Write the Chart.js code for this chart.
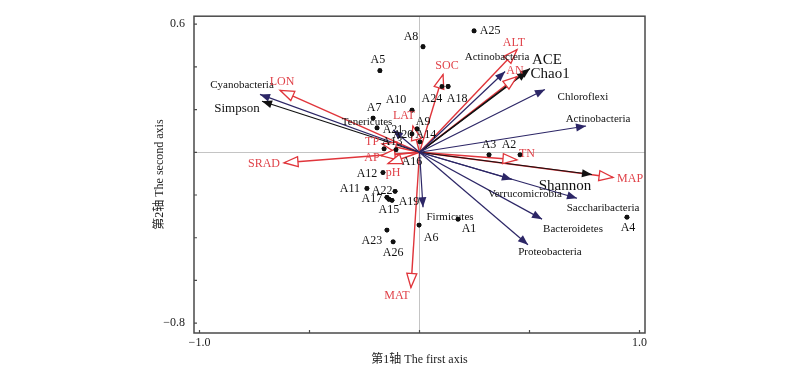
<!DOCTYPE html>
<html><head><meta charset="utf-8">
<script src="https://cdn.jsdelivr.net/npm/chart.js@4.4.1/dist/chart.umd.min.js"></script>
<style>html,body{margin:0;padding:0;background:#fff;}#wrap{width:800px;height:376px;}</style>
</head><body><div id="wrap"><canvas id="c" width="800" height="376"></canvas></div>
<script>
// ---- data ----
const sampleNames = ['A1','A2','A3','A4','A5','A6','A7','A8','A9','A10','A11','A12','A13','A14','A15','A16','A17','A18','A19','A20','A21','A22','A23','A24','A25','A26'];
const sampleX = [0.175,0.457,0.316,0.943,-0.180,-0.002,-0.211,0.016,-0.011,-0.034,-0.239,-0.166,-0.161,0.002,-0.139,-0.107,-0.148,0.130,-0.125,-0.034,-0.193,-0.111,-0.148,0.102,0.248,-0.120];
const sampleY = [-0.313,-0.012,-0.012,-0.304,0.382,-0.341,0.160,0.494,0.109,0.197,-0.169,-0.095,0.016,0.049,-0.220,0.012,-0.211,0.308,-0.225,0.086,0.114,-0.183,-0.364,0.308,0.568,-0.419];

const envNames = ['LON','SRAD','TP','AP','pH','LAT','MAT','SOC','ALT','AN','TN','MAP'];
const envX = [-0.634,-0.616,-0.170,-0.175,-0.143,-0.030,-0.039,0.107,0.443,0.443,0.443,0.880];
const envY = [0.290,-0.049,0.039,-0.016,-0.053,0.123,-0.633,0.364,0.480,0.354,-0.035,-0.118];

const phylumNames = ['Cyanobacteria','Tenericutes','Actinobacteria','Chloroflexi','Actinobacteria','Verrucomicrobia','Saccharibacteria','Bacteroidetes','Proteobacteria','Firmicutes'];
const phylumX = [-0.725,-0.120,0.389,0.570,0.757,0.420,0.716,0.557,0.493,0.016];
const phylumY = [0.271,0.104,0.378,0.294,0.123,-0.127,-0.215,-0.313,-0.433,-0.257];

const diversityNames = ['Simpson','ACE','Chao1','Shannon'];
const diversityX = [-0.716,0.502,0.489,0.784];
const diversityY = [0.239,0.392,0.378,-0.104];

const xTickValues = [-1,-0.5,0,0.5,1];
const xTickLabels = ['\u22121.0','','','','1.0'];
const yTickValues = [0.6,0.4,0.2,0,-0.2,-0.4,-0.6,-0.8];
const yTickLabels = ['0.6','','','','','','','\u22120.8'];

// ---- label placement (pixel offsets of text centre from the mark) ----
const sampleLabelOffsets = [[11,10],[-11,-10],[0,-10],[1,11],[-2,-11],[12,13],[1,-10],[-12,-10],[6,-7],[-16,-10],[-17,0],[-16,1],[8,-7],[6,-7],[0,11],[16,12],[-15,1],[9,12],[17,2],[-9,1],[16,2],[-13,-1],[-15,11],[-10,12],[16,0],[0,11]];
const envLabelOffsets = [[2,-8],[-20,1],[-10,-2],[-9,2],[5,9],[-9,-10],[-14,8],[4,-9],[-3,-7],[-2,-6],[10,-6],[17,1]];
const phylumLabelOffsets = [[-18,-9],[-26,-8],[-8,-14],[38,8],[12,-7],[13,15],[26,10],[31,10],[22,7],[27,10]];
const diversityLabelOffsets = [[-25,7],[17,-8],[23,3],[-27,12]];
const diversityFontSizes = [13,15,15,15];

const FONT = '"Liberation Serif", "Noto Sans CJK SC", serif';
const RED = '#e0353b', RED_TXT = '#e0434a', NAVY = '#2c2666', BLACK = '#111111';

const datasets = [];
function addArrows(names, xs, ys, color, w) {
  names.forEach((n, i) => datasets.push({
    label: n, data: [{x:0,y:0},{x:xs[i],y:ys[i]}], showLine: true,
    borderColor: color, borderWidth: w, pointRadius: 0, pointHoverRadius: 0, fill: false, tension: 0, order: 5
  }));
}
addArrows(phylumNames, phylumX, phylumY, NAVY, 1.2);
addArrows(diversityNames, diversityX, diversityY, BLACK, 1.2);
addArrows(envNames, envX, envY, RED, 1.4);
datasets.push({
  label: 'samples', data: sampleNames.map((n,i)=>({x:sampleX[i], y:sampleY[i]})),
  backgroundColor: BLACK, borderColor: BLACK, pointRadius: 2.4, borderWidth: 0, order: 0
});

function head(ctx, ox, oy, tx, ty, len, hw, hollow, color) {
  const a = Math.atan2(ty - oy, tx - ox);
  const bx = tx - len * Math.cos(a), by = ty - len * Math.sin(a);
  const nx = -Math.sin(a) * hw, ny = Math.cos(a) * hw;
  ctx.beginPath();
  ctx.moveTo(tx, ty); ctx.lineTo(bx + nx, by + ny); ctx.lineTo(bx - nx, by - ny); ctx.closePath();
  if (hollow) { ctx.fillStyle = '#fff'; ctx.fill(); ctx.strokeStyle = color; ctx.lineWidth = 1.3; ctx.stroke(); }
  else { ctx.fillStyle = color; ctx.fill(); }
}

const decor = {
  id: 'decor',
  afterDatasetsDraw(chart) {
    const {ctx, scales: {x, y}} = chart;
    const ox = x.getPixelForValue(0), oy = y.getPixelForValue(0);
    ctx.save();
    phylumNames.forEach((n,i)=> head(ctx, ox, oy, x.getPixelForValue(phylumX[i]), y.getPixelForValue(phylumY[i]), 10, 4, false, NAVY));
    diversityNames.forEach((n,i)=> head(ctx, ox, oy, x.getPixelForValue(diversityX[i]), y.getPixelForValue(diversityY[i]), 10, 4, false, BLACK));
    envNames.forEach((n,i)=> head(ctx, ox, oy, x.getPixelForValue(envX[i]), y.getPixelForValue(envY[i]), 14, 5, true, RED));
    ctx.textAlign = 'center'; ctx.textBaseline = 'middle';
    // sample points redrawn on top of heads
    ctx.fillStyle = BLACK;
    sampleNames.forEach((n,i)=>{
      const px = x.getPixelForValue(sampleX[i]), py = y.getPixelForValue(sampleY[i]);
      ctx.beginPath(); ctx.arc(px, py, 2.4, 0, Math.PI*2); ctx.fill();
    });
    ctx.font = '12px ' + FONT; ctx.fillStyle = BLACK;
    sampleNames.forEach((n,i)=>{
      const px = x.getPixelForValue(sampleX[i]), py = y.getPixelForValue(sampleY[i]);
      ctx.fillText(n, px + sampleLabelOffsets[i][0], py + sampleLabelOffsets[i][1]);
    });
    ctx.font = '11px ' + FONT; ctx.fillStyle = BLACK;
    phylumNames.forEach((n,i)=>{
      const px = x.getPixelForValue(phylumX[i]), py = y.getPixelForValue(phylumY[i]);
      ctx.fillText(n, px + phylumLabelOffsets[i][0], py + phylumLabelOffsets[i][1]);
    });
    diversityNames.forEach((n,i)=>{
      ctx.font = diversityFontSizes[i] + 'px ' + FONT;
      const px = x.getPixelForValue(diversityX[i]), py = y.getPixelForValue(diversityY[i]);
      ctx.fillText(n, px + diversityLabelOffsets[i][0], py + diversityLabelOffsets[i][1]);
    });
    ctx.font = '12px ' + FONT; ctx.fillStyle = RED_TXT;
    envNames.forEach((n,i)=>{
      const px = x.getPixelForValue(envX[i]), py = y.getPixelForValue(envY[i]);
      ctx.fillText(n, px + envLabelOffsets[i][0], py + envLabelOffsets[i][1]);
    });
    ctx.restore();
  },
  afterDraw(chart) {
    const {ctx, chartArea: ca, scales: {x, y}} = chart;
    ctx.save();
    ctx.strokeStyle = '#4a4a4a'; ctx.lineWidth = 1.5;
    ctx.strokeRect(ca.left, ca.top, ca.right - ca.left, ca.bottom - ca.top);
    ctx.lineWidth = 1.2; ctx.beginPath();
    xTickValues.forEach(v => { const p = x.getPixelForValue(v); ctx.moveTo(p, ca.bottom); ctx.lineTo(p, ca.bottom - 3); });
    yTickValues.forEach(v => { const p = y.getPixelForValue(v); ctx.moveTo(ca.left, p); ctx.lineTo(ca.left + 3, p); });
    ctx.stroke();
    ctx.restore();
  }
};

new Chart(document.getElementById('c'), {
  type: 'scatter',
  data: { datasets },
  plugins: [decor],
  options: {
    responsive: false, animation: false, devicePixelRatio: 1,
    layout: { padding: { left: 150, right: 155, top: 13, bottom: 0 } },
    plugins: { legend: { display: false }, tooltip: { enabled: false } },
    scales: {
      x: {
        type: 'linear', min: -1.025, max: 1.025,
        afterBuildTicks: s => { s.ticks = xTickValues.map(v => ({value: v})); },
        afterFit: s => { s.height = 43; },
        ticks: { autoSkip: false, maxRotation: 0, padding: 3, color: '#222', font: { family: FONT, size: 12 },
          callback: (v, i) => xTickLabels[i] },
        grid: { drawTicks: false, lineWidth: 1, color: c => (c.tick && c.tick.value === 0) ? '#c4c4c4' : 'rgba(0,0,0,0)' },
        border: { display: false },
        title: { display: true, text: '第1轴 The first axis', color: '#222', font: { family: FONT, size: 12 }, padding: { top: 9, bottom: 9 } }
      },
      y: {
        type: 'linear', min: -0.846, max: 0.637,
        afterBuildTicks: s => { s.ticks = yTickValues.map(v => ({value: v})); },
        afterFit: s => { s.width = 44; },
        ticks: { autoSkip: false, padding: 9, color: '#222', font: { family: FONT, size: 12 },
          callback: (v, i) => yTickLabels[i] },
        grid: { drawTicks: false, lineWidth: 1, color: c => (c.tick && c.tick.value === 0) ? '#c4c4c4' : 'rgba(0,0,0,0)' },
        border: { display: false },
        title: { display: true, text: '第2轴 The second axis', color: '#222', font: { family: FONT, size: 12 }, padding: { top: 3, bottom: 3 } }
      }
    }
  }
});
</script></body></html>
